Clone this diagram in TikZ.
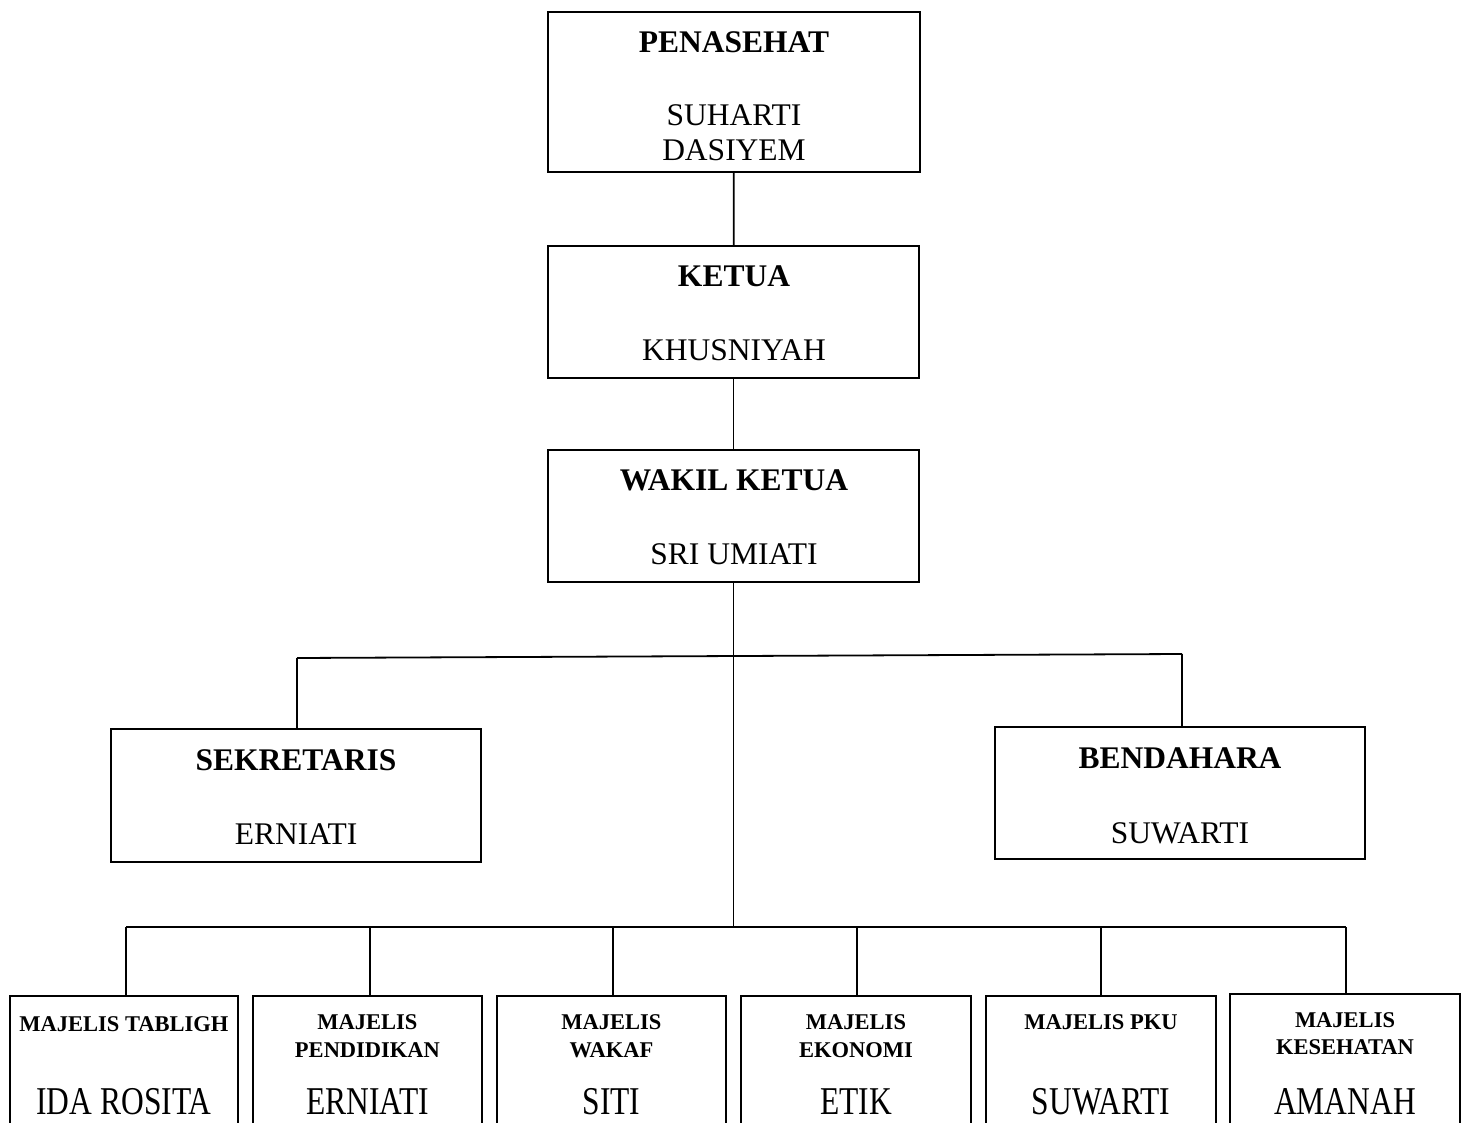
\documentclass[tikz,border=0pt]{standalone}
\usepackage{fontspec}
\setmainfont{Liberation Serif}
\usepackage{graphicx}
\newcommand\bigtxt{\fontsize{31.5}{36}\selectfont}
\newcommand\smalltxt{\fontsize{22.5}{28}\selectfont\bfseries}
\newcommand\tallname[1]{\scalebox{1}[1.25]{#1}}
\begin{document}
\begin{tikzpicture}[x=1pt,y=-1pt,
  box/.style={draw, line width=1.8pt, inner sep=0pt},
  conn/.style={line width=1.8pt},
  ttltxt/.style={anchor=base, inner sep=0pt, font=\bigtxt\bfseries},
  nmtxt/.style={anchor=base, inner sep=0pt, font=\bigtxt},
  mttltxt/.style={anchor=base, inner sep=0pt, font=\smalltxt},
  mnmtxt/.style={anchor=base, inner sep=0pt, text depth=0pt, font=\bigtxt}]
\useasboundingbox (0,0) rectangle (1465,1123);
\clip (0,0) rectangle (1465,1123);

% upper boxes
\node[box, minimum width=372pt, minimum height=160pt] (pen) at (734,92) {};
\node[box, minimum width=371pt, minimum height=132pt] (ket) at (733.5,312) {};
\node[box, minimum width=371pt, minimum height=132pt] (wak) at (733.5,516) {};
\node[box, minimum width=370pt, minimum height=133pt] (sek) at (296,795.5) {};
\node[box, minimum width=370pt, minimum height=132pt] (ben) at (1180,793) {};

\node[ttltxt] (t1) at (734,53) {PENASEHAT};
\node[nmtxt] (n1a) at (734,126) {SUHARTI};
\node[nmtxt] (n1b) at (734,161) {DASIYEM};
\node[ttltxt] (t2) at (734,287) {KETUA};
\node[nmtxt] (n2) at (734,361) {KHUSNIYAH};
\node[ttltxt] (t3) at (734,490) {WAKIL KETUA};
\node[nmtxt] (n3) at (734,564) {SRI UMIATI};
\node[ttltxt] (t4) at (296,770) {SEKRETARIS};
\node[nmtxt] (n4) at (296,844) {ERNIATI};
\node[ttltxt] (t5) at (1180,768) {BENDAHARA};
\node[nmtxt] (n5) at (1180,843) {SUWARTI};

% bottom boxes
\node[box, minimum width=228pt, minimum height=144pt] (m1) at (124,1068) {};
\node[box, minimum width=229pt, minimum height=144pt] (m2) at (367.5,1068) {};
\node[box, minimum width=229pt, minimum height=144pt] (m3) at (611.5,1068) {};
\node[box, minimum width=230pt, minimum height=144pt] (m4) at (856,1068) {};
\node[box, minimum width=230pt, minimum height=144pt] (m5) at (1101,1068) {};
\node[box, minimum width=230pt, minimum height=146pt] (m6) at (1345,1067) {};

\node[mttltxt] (h1) at (124,1031) {MAJELIS TABLIGH};
\node[mttltxt] (h2a) at (367.5,1029) {MAJELIS};
\node[mttltxt] (h2b) at (367.5,1057) {PENDIDIKAN};
\node[mttltxt] (h3a) at (611.5,1029) {MAJELIS};
\node[mttltxt] (h3b) at (611.5,1057) {WAKAF};
\node[mttltxt] (h4a) at (856,1029) {MAJELIS};
\node[mttltxt] (h4b) at (856,1057) {EKONOMI};
\node[mttltxt] (h5) at (1101,1029) {MAJELIS PKU};
\node[mttltxt] (h6a) at (1345,1027) {MAJELIS};
\node[mttltxt] (h6b) at (1345,1054) {KESEHATAN};

\node[mnmtxt] (p1) at (124,1114) {\tallname{IDA ROSITA}};
\node[mnmtxt] (p2) at (367.5,1114) {\tallname{ERNIATI}};
\node[mnmtxt] (p3) at (611.5,1114) {\tallname{SITI}};
\node[mnmtxt] (p4) at (856,1114) {\tallname{ETIK}};
\node[mnmtxt] (p5) at (1101,1114) {\tallname{SUWARTI}};
\node[mnmtxt] (p6) at (1345,1114) {\tallname{AMANAH}};

% connectors
\coordinate (tl) at (297,658);
\coordinate (tr) at (1182,654);
\coordinate (hub) at (733.5,927);
\coordinate (bl) at (126,927);
\coordinate (br) at (1346,927);
\coordinate (b1) at (126,927);
\coordinate (b2) at (370,927);
\coordinate (b3) at (613,927);
\coordinate (b4) at (857,927);
\coordinate (b5) at (1101,927);
\coordinate (b6) at (1346,927);

\draw[conn] (pen) -- (ket);
\draw[conn] (ket) -- (wak);
\draw[conn] (wak.south) -- (hub);
\draw[conn] (tl) -- (tr);
\draw[conn] (tl) -- (tl |- sek.north);
\draw[conn] (tr) -- (tr |- ben.north);
\draw[conn] (bl) -- (br);
\foreach \b/\m in {b1/m1,b2/m2,b3/m3,b4/m4,b5/m5,b6/m6}
  \draw[conn] (\b) -- (\b |- \m.north);
\end{tikzpicture}
\end{document}
